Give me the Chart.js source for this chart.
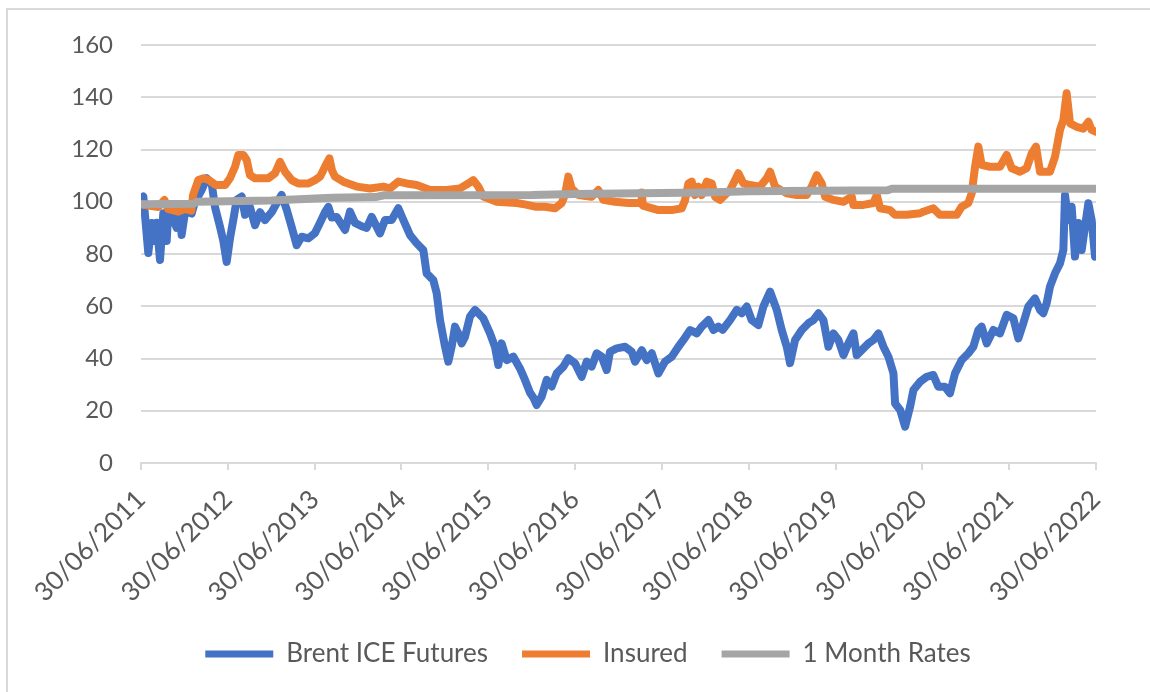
<!DOCTYPE html>
<html>
<head>
<meta charset="utf-8">
<script src="https://cdn.jsdelivr.net/npm/chart.js@4.4.0/dist/chart.umd.min.js"></script>
<style>
    html, body { margin: 0; padding: 0; background: #fff; overflow: hidden; }
    #frame { position: absolute; left: 6px; top: 8px; width: 1200px; height: 720px; border: 2px solid #d9d9d9; }
    #myChart { position: absolute; left: 0; top: 0; }
</style>
</head>
<body>
<div id="frame"></div>
<canvas id="myChart" width="1150" height="692"></canvas>
<script>
// x positions are decimal years (2011.5 = 30/06/2011)
const tickYears = [2011.5, 2012.5, 2013.5, 2014.5, 2015.5, 2016.5, 2017.5, 2018.5, 2019.5, 2020.5, 2021.5, 2022.5];
const tickLabels = ['30/06/2011', '30/06/2012', '30/06/2013', '30/06/2014', '30/06/2015', '30/06/2016',
    '30/06/2017', '30/06/2018', '30/06/2019', '30/06/2020', '30/06/2021', '30/06/2022'];
const seriesNames = ['Brent ICE Futures', 'Insured', '1 Month Rates'];

const brentYears = [2011.5, 2011.527, 2011.584, 2011.623, 2011.661, 2011.68, 2011.719, 2011.757, 2011.796, 2011.815,
    2011.872, 2011.911, 2011.949, 2011.968, 2012.007, 2012.045, 2012.084, 2012.122, 2012.199, 2012.256,
    2012.314, 2012.352, 2012.41, 2012.448, 2012.487, 2012.525, 2012.563, 2012.602, 2012.66, 2012.698,
    2012.755, 2012.813, 2012.871, 2012.928, 2013.005, 2013.063, 2013.12, 2013.178, 2013.235, 2013.293,
    2013.351, 2013.427, 2013.504, 2013.562, 2013.619, 2013.658, 2013.696, 2013.754, 2013.85, 2013.907,
    2013.965, 2014.042, 2014.099, 2014.157, 2014.253, 2014.31, 2014.387, 2014.464, 2014.522, 2014.598,
    2014.675, 2014.752, 2014.79, 2014.867, 2014.906, 2014.944, 2015.002, 2015.04, 2015.078, 2015.117,
    2015.155, 2015.193, 2015.232, 2015.289, 2015.347, 2015.443, 2015.52, 2015.577, 2015.616, 2015.654,
    2015.712, 2015.789, 2015.865, 2015.923, 2015.98, 2016.02, 2016.057, 2016.115, 2016.173, 2016.23,
    2016.288, 2016.365, 2016.422, 2016.499, 2016.576, 2016.634, 2016.691, 2016.749, 2016.806, 2016.864,
    2016.902, 2016.979, 2017.075, 2017.152, 2017.191, 2017.268, 2017.325, 2017.383, 2017.46, 2017.536,
    2017.613, 2017.69, 2017.748, 2017.825, 2017.902, 2017.959, 2018.036, 2018.094, 2018.151, 2018.2,
    2018.285, 2018.362, 2018.419, 2018.477, 2018.534, 2018.611, 2018.669, 2018.746, 2018.823, 2018.88,
    2018.938, 2018.976, 2019.034, 2019.111, 2019.188, 2019.245, 2019.303, 2019.36, 2019.418, 2019.476,
    2019.533, 2019.591, 2019.648, 2019.706, 2019.744, 2019.802, 2019.879, 2019.936, 2019.994, 2020.052,
    2020.109, 2020.167, 2020.186, 2020.244, 2020.301, 2020.359, 2020.397, 2020.474, 2020.55, 2020.626,
    2020.684, 2020.761, 2020.818, 2020.876, 2020.953, 2021.03, 2021.087, 2021.145, 2021.183, 2021.241,
    2021.318, 2021.394, 2021.471, 2021.548, 2021.605, 2021.663, 2021.72, 2021.797, 2021.855, 2021.893,
    2021.932, 2021.97, 2022.028, 2022.085, 2022.124, 2022.143, 2022.181, 2022.22, 2022.258, 2022.297,
    2022.335, 2022.374, 2022.412, 2022.45, 2022.489, 2022.5];
const brentValues = [101, 102, 80.4, 91.9, 85, 92, 77.7, 95.6, 85, 96.8,
    93, 90, 96.2, 87.3, 96, 96, 95.5, 100, 104.5, 109,
    107, 98, 90.4, 85, 77, 86, 93, 100.7, 102, 95,
    98, 91, 96, 93, 96, 99.5, 102.6, 97, 90.4, 83.4,
    86.6, 86, 88, 92, 96, 98, 94, 94.2, 89.2, 96.2,
    91.9, 90.6, 90, 94.2, 87.9, 93, 93, 97.5, 93, 87.3,
    84.1, 81.5, 72.6, 70, 65, 54.7, 44.5, 38.8, 44.5, 52.2,
    49.6, 45.8, 48.3, 56, 58.6, 55.4, 49.6, 44.5, 37.5, 45.8,
    39.4, 40.7, 36.2, 31.8, 27, 25, 22.2, 25.4, 31.8, 29.3,
    34.3, 36.9, 40.1, 38.2, 33, 38.8, 36.9, 42, 40.7, 35.6,
    42.6, 43.9, 44.5, 42.6, 38.8, 43.2, 39.4, 42, 34.3, 38.8,
    40.7, 44.5, 47.1, 50.9, 49.6, 52.2, 54.7, 50.9, 52.2, 51,
    54.7, 58.6, 57.3, 59.9, 54.7, 52.8, 59.9, 65.6, 58.6, 50.9,
    44.5, 38.2, 47.1, 50.9, 53.5, 54.7, 57.3, 54.7, 44.5, 49.6,
    47.1, 41.3, 45.8, 49.6, 41.3, 43.2, 45.8, 47.1, 49.6, 44.5,
    40.7, 34.3, 22.8, 20.3, 13.9, 21.6, 27.9, 31.1, 33, 33.7,
    29.2, 29.2, 26.7, 34.3, 39.4, 42, 44.5, 50.9, 52.2, 45.8,
    50.9, 49.6, 56.7, 55.4, 47.7, 53.5, 59.9, 63, 58.6, 57.3,
    61.2, 67.5, 72.6, 76.4, 81.5, 102.6, 93, 98.1, 79, 91.9,
    81.5, 90.6, 99.4, 93, 79, 80];

const insuredYears = [2011.5, 2011.7, 2011.77, 2011.81, 2011.93, 2012.01, 2012.08, 2012.1, 2012.16, 2012.22,
    2012.28, 2012.36, 2012.47, 2012.525, 2012.583, 2012.621, 2012.679, 2012.717, 2012.755, 2012.813,
    2012.89, 2012.967, 2013.043, 2013.101, 2013.159, 2013.235, 2013.312, 2013.427, 2013.504, 2013.562,
    2013.619, 2013.67, 2013.7, 2013.735, 2013.83, 2013.984, 2014.138, 2014.291, 2014.368, 2014.464,
    2014.56, 2014.675, 2014.829, 2015.021, 2015.174, 2015.27, 2015.328, 2015.385, 2015.443, 2015.597,
    2015.827, 2015.92, 2016.04, 2016.153, 2016.268, 2016.345, 2016.383, 2016.422, 2016.46, 2016.537,
    2016.691, 2016.768, 2016.826, 2016.96, 2017.114, 2017.26, 2017.268, 2017.28, 2017.46, 2017.613,
    2017.729, 2017.767, 2017.805, 2017.844, 2017.882, 2017.921, 2017.959, 2018.017, 2018.074, 2018.113,
    2018.169, 2018.285, 2018.343, 2018.381, 2018.439, 2018.515, 2018.631, 2018.708, 2018.746, 2018.803,
    2018.938, 2019.053, 2019.168, 2019.226, 2019.284, 2019.341, 2019.38, 2019.476, 2019.591, 2019.687,
    2019.706, 2019.821, 2019.936, 2019.975, 2020.013, 2020.128, 2020.186, 2020.32, 2020.474, 2020.511,
    2020.626, 2020.703, 2020.895, 2020.953, 2021.03, 2021.068, 2021.107, 2021.145, 2021.183, 2021.279,
    2021.394, 2021.471, 2021.529, 2021.625, 2021.701, 2021.759, 2021.809, 2021.855, 2021.97, 2022.028,
    2022.085, 2022.124, 2022.162, 2022.201, 2022.277, 2022.354, 2022.412, 2022.45, 2022.5];
const insuredValues = [99, 98, 100.7, 97.3, 96.2, 97.3, 96.6, 102.6, 108.3, 109,
    108.3, 106.4, 106.4, 109, 113.4, 117.9, 117.9, 116, 110.2, 109,
    109, 109, 110.9, 115.3, 111.5, 108.3, 107, 107, 108.3, 109.6,
    113.4, 116.6, 112, 109.6, 107.7, 105.8, 105.1, 105.8, 105.1, 107.7,
    107, 106.4, 104.5, 104.5, 105.1, 107, 108.3, 105.8, 102, 100,
    99.5, 99, 98.1, 98.1, 97.5, 99.5, 102.6, 109.6, 105.1, 102.6,
    101.9, 104.5, 100.7, 100, 99.5, 99.5, 103.5, 98.5, 96.8, 96.8,
    97.5, 100.7, 107, 107.7, 102.6, 105.8, 102.6, 107.7, 107, 101.9,
    100.7, 104.5, 108.3, 110.9, 107, 106.4, 105.8, 109, 111.5, 105.8,
    103.2, 102.6, 102.6, 105.8, 110.2, 107, 101.9, 100.7, 100, 101.9,
    98.8, 98.8, 99.5, 102.6, 97.5, 96.8, 95, 95, 95.6, 96.2,
    97.5, 95, 95, 98.1, 99.5, 103.2, 113.4, 121.1, 114.1, 113.4,
    113.4, 117.9, 112.8, 111.5, 112.8, 118.5, 121.1, 111.5, 111.5, 117.2,
    127.5, 131.3, 141.5, 130, 128.7, 128, 130.6, 127.5, 126.8];

const ratesYears = [2011.5, 2012.1, 2012.15, 2013.0, 2013.7, 2014.2, 2014.3, 2016.0, 2016.5, 2018.0, 2018.5, 2020.1, 2020.15, 2022.5];
const ratesValues = [99.0, 99.2, 100.0, 100.5, 101.5, 101.8, 102.5, 102.6, 103.0, 103.5, 104.0, 104.4, 105.0, 105.0];

const yTicks = [0, 20, 40, 60, 80, 100, 120, 140, 160];

const textColor = '#595959';
const gridColor = '#d9d9d9';
const fontFamily = "Lato, 'Noto Sans', sans-serif";

function toPoints(xs, ys) {
    return xs.map((x, i) => ({ x: x, y: ys[i] }));
}

function lineDataset(label, points, color, order) {
    return {
        label: label,
        data: points,
        borderColor: color,
        backgroundColor: color,
        borderWidth: 8,
        pointRadius: 0,
        tension: 0,
        borderJoinStyle: 'round',
        borderCapStyle: 'round',
        order: order
    };
}

const datasets = [
    lineDataset(seriesNames[0], toPoints(brentYears, brentValues), '#4472C4', 3),
    lineDataset(seriesNames[1], toPoints(insuredYears, insuredValues), '#ED7D31', 2),
    lineDataset(seriesNames[2], toPoints(ratesYears, ratesValues), '#A5A5A5', 1)
];

// the legend sits a little right of the plot centre in the original
const legendShift = {
    id: 'legendShift',
    afterLayout(chart) {
        chart.legend.left += 40;
        chart.legend.right += 40;
    }
};

new Chart(document.getElementById('myChart'), {
    type: 'line',
    data: { datasets: datasets },
    plugins: [legendShift],
    options: {
        responsive: false,
        animation: false,
        devicePixelRatio: 1,
        layout: { padding: { top: 45, right: 54, bottom: 15, left: 0 } },
        plugins: {
            tooltip: { enabled: false },
            legend: {
                position: 'bottom',
                labels: {
                    color: textColor,
                    font: { family: fontFamily, size: 26 },
                    boxWidth: 68,
                    boxHeight: 7,
                    useBorderRadius: true,
                    borderRadius: 3.5,
                    padding: 34,
                    sort: (a, b) => a.datasetIndex - b.datasetIndex,
                    generateLabels: (chart) => chart.data.datasets.map((ds, i) => ({
                        text: ds.label,
                        fillStyle: ds.borderColor,
                        strokeStyle: ds.borderColor,
                        lineWidth: 0,
                        fontColor: textColor,
                        datasetIndex: i,
                        hidden: false
                    }))
                }
            }
        },
        scales: {
            x: {
                type: 'linear',
                min: tickYears[0],
                max: tickYears[tickYears.length - 1],
                afterBuildTicks: (scale) => {
                    scale.ticks = tickYears.map(v => ({ value: v }));
                },
                afterFit: (scale) => { scale.height = 144; },
                ticks: {
                    autoSkip: false,
                    maxRotation: 45,
                    minRotation: 45,
                    padding: 14,
                    color: textColor,
                    font: { family: fontFamily, size: 26 },
                    callback: (value) => tickLabels[tickYears.indexOf(value)]
                },
                grid: {
                    drawOnChartArea: false,
                    drawTicks: true,
                    tickLength: 7,
                    color: gridColor,
                    lineWidth: 2
                },
                border: { display: true, color: gridColor, width: 2 }
            },
            y: {
                min: 0,
                max: 160,
                afterBuildTicks: (scale) => {
                    scale.ticks = yTicks.map(v => ({ value: v }));
                },
                afterFit: (scale) => { scale.width = 141; },
                ticks: {
                    padding: 28,
                    color: textColor,
                    font: { family: fontFamily, size: 24 }
                },
                grid: {
                    drawTicks: false,
                    color: gridColor,
                    lineWidth: 2
                },
                border: { display: false }
            }
        }
    }
});
</script>
</body>
</html>
